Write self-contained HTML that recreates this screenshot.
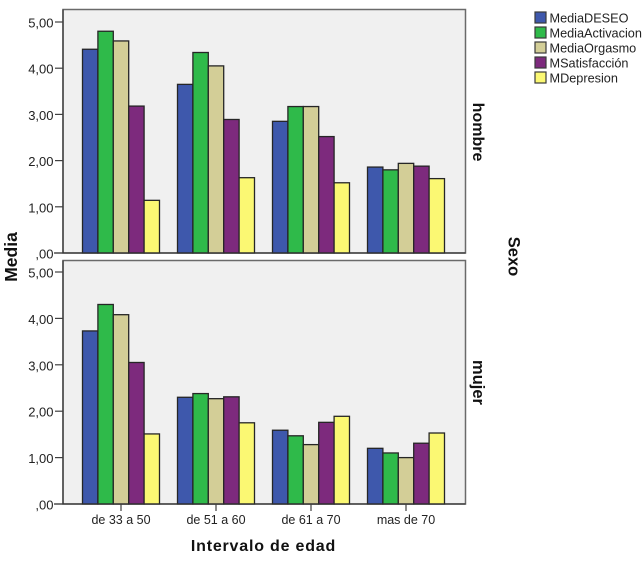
<!DOCTYPE html>
<html>
<head>
<meta charset="utf-8">
<style>
html,body{margin:0;padding:0;background:#fff;width:643px;height:563px;overflow:hidden}
svg{display:block;font-family:"Liberation Sans",sans-serif}
</style>
</head>
<body>
<svg id="chart" width="643" height="563" viewBox="0 0 643 563" xmlns="http://www.w3.org/2000/svg"></svg>
<script>
const categories = ['de 33 a 50', 'de 51 a 60', 'de 61 a 70', 'mas de 70'];
const seriesNames = ['MediaDESEO', 'MediaActivacion', 'MediaOrgasmo', 'MSatisfacción', 'MDepresion'];
const seriesColors = ['#3e58ac', '#2fba4a', '#d3ce97', '#7d2a7d', '#fbf873'];
const tickValues = [0, 1, 2, 3, 4, 5];
const tickLabels = [',00', '1,00', '2,00', '3,00', '4,00', '5,00'];
const hombreDeseo = [4.41, 3.65, 2.85, 1.86];
const hombreActivacion = [4.80, 4.34, 3.17, 1.80];
const hombreOrgasmo = [4.59, 4.05, 3.17, 1.94];
const hombreSatisfaccion = [3.18, 2.89, 2.52, 1.88];
const hombreDepresion = [1.14, 1.63, 1.52, 1.61];
const mujerDeseo = [3.73, 2.30, 1.59, 1.20];
const mujerActivacion = [4.30, 2.38, 1.47, 1.10];
const mujerOrgasmo = [4.08, 2.27, 1.28, 1.00];
const mujerSatisfaccion = [3.05, 2.31, 1.76, 1.31];
const mujerDepresion = [1.51, 1.75, 1.89, 1.53];

const NS = 'http://www.w3.org/2000/svg';
const svg = document.getElementById('chart');

function mk(tag, attrs, parent, text) {
  const el = document.createElementNS(NS, tag);
  for (const k in attrs) el.setAttribute(k, attrs[k]);
  if (text !== undefined) el.textContent = text;
  (parent || svg).appendChild(el);
  return el;
}

const plotLeft = 63;
const plotRight = 465.5;
const groupStep = 95;
const firstGroupCenter = 121;
const barWidth = 15.4;

function xCenter(i) { return firstGroupCenter + i * groupStep; }

const panels = [
  { key: 'hombre', top: 9.5, base: 253, unit: 46.2, data: [hombreDeseo, hombreActivacion, hombreOrgasmo, hombreSatisfaccion, hombreDepresion], labelX: 473, labelY: 132, labelSize: 16 },
  { key: 'mujer', top: 260.5, base: 504, unit: 46.4, data: [mujerDeseo, mujerActivacion, mujerOrgasmo, mujerSatisfaccion, mujerDepresion], labelX: 473, labelY: 382.5, labelSize: 16.5 }
];

panels.forEach(function (p) {
  const g = mk('g', {});
  
  
  const yScale = function (v) { return p.base - v * p.unit; };

  const bg = mk('rect', { x: plotLeft, y: p.top, width: plotRight - plotLeft, height: p.base - p.top, fill: '#f0f0f0', stroke: '#6a6a6a', 'stroke-width': 1.5 }, g);
  
  

  p.data.forEach(function (vals, s) {
    vals.forEach(function (v, c) {
      const x = xCenter(c) - barWidth * 2.5 + s * barWidth;
      const y = yScale(v);
      const bar = mk('rect', { x: x, y: y, width: barWidth, height: p.base - y, fill: seriesColors[s], stroke: '#262626', 'stroke-width': 1.3 }, g);
      
      
    });
  });

  mk('line', { x1: plotLeft, x2: plotLeft, y1: p.top, y2: p.base, stroke: '#404040', 'stroke-width': 1.4 }, g);
  mk('line', { x1: plotLeft - 9, x2: plotRight, y1: p.base, y2: p.base, stroke: '#303030', 'stroke-width': 1.3 }, g);

  tickValues.forEach(function (t, i) {
    const y = yScale(t);
    const tick = mk('line', { x1: plotLeft - 8, x2: plotLeft, y1: y, y2: y, stroke: '#404040', 'stroke-width': 1.2 }, g);
    
    
    const lab = mk('text', { x: 53.5, y: y + 5.5, 'text-anchor': 'end', 'font-size': 13, fill: '#222' }, g, tickLabels[i]);
    
    
  });

  const pl = mk('text', { transform: 'translate(' + p.labelX + ' ' + p.labelY + ') rotate(90)', 'font-size': p.labelSize, 'font-weight': 'bold', fill: '#111', 'text-anchor': 'middle' }, g, p.key);
  
  
});

categories.forEach(function (c, i) {
  const x = xCenter(i);
  const tick = mk('line', { x1: x, x2: x, y1: 504, y2: 511, stroke: '#404040', 'stroke-width': 1.2 });
  
  
  const lab = mk('text', { x: x, y: 524, 'text-anchor': 'middle', 'font-size': 12.5, fill: '#222' }, svg, c);
  
  
});

const xTitle = mk('text', { x: 263.5, y: 551, 'text-anchor': 'middle', 'font-size': 16, 'font-weight': 'bold', fill: '#111', 'letter-spacing': '0.8' }, svg, 'Intervalo de edad');



const yTitle = mk('text', { transform: 'translate(17 257) rotate(-90)', 'text-anchor': 'middle', 'font-size': 17.5, 'font-weight': 'bold', fill: '#111' }, svg, 'Media');



const sexo = mk('text', { transform: 'translate(508.5 256.5) rotate(90)', 'text-anchor': 'middle', 'font-size': 16.5, 'font-weight': 'bold', fill: '#111' }, svg, 'Sexo');



const legend = mk('g', {});


seriesNames.forEach(function (name, i) {
  const y = 12 + i * 15;
  const sw = mk('rect', { x: 535, y: y, width: 11, height: 11, fill: seriesColors[i], stroke: '#3a3a3a', 'stroke-width': 1.2 }, legend);
  
  
  const t = mk('text', { x: 549.5, y: y + 10.5, 'font-size': 12.7, fill: '#222' }, legend, name);
  
  
});
</script>
</body>
</html>
